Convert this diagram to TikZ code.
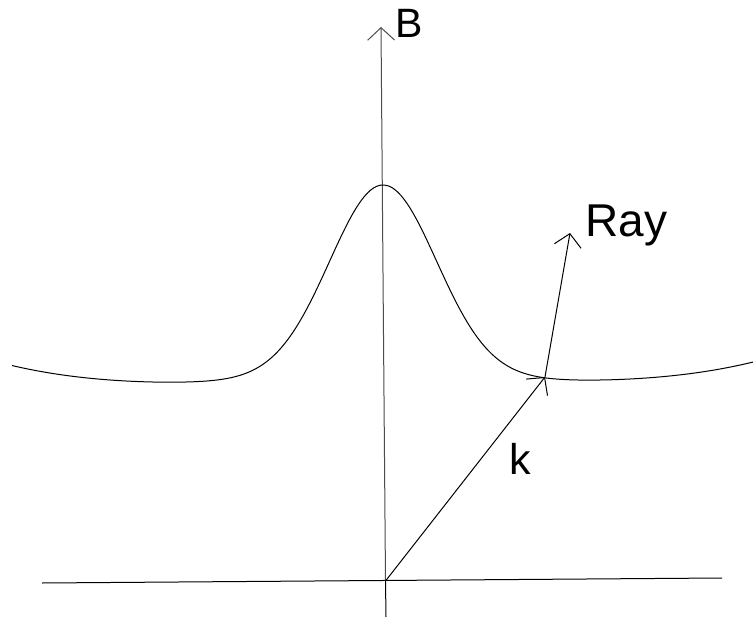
\documentclass[tikz,border=0pt]{standalone}
\usepackage{fontspec}
\setmainfont{Liberation Sans}
\usetikzlibrary{arrows.meta}
\begin{document}
\begin{tikzpicture}[x=1pt,y=-1pt,
  line width=1pt,
  barb/.style={-{Straight Barb[length=12.5pt,width=27pt]}},
  lbl/.style={inner sep=0pt,anchor=base west,font=\fontsize{41}{41}\selectfont}]
\useasboundingbox (0,0) rectangle (753,618);
% named points
\coordinate (Xl) at (42,583);
\coordinate (Xr) at (722,578);
\coordinate (Ybot) at (386,617);
\coordinate (O) at (385.5,581);
\coordinate (Ytop) at (381,27);
\coordinate (P) at (545,377);
\coordinate (R) at (570,233);
% axes
\draw (Xl) -- (Xr);
\draw (Ybot) -- (O);
\draw[black!70,barb] (O) -- (Ytop);
% dispersion curve
\draw plot[smooth,samples=180,domain=12:753]
  (\x,{389 - 182*exp(-((\x-383)/75)^2) - 22/(1+((\x-383)/120)^2)
        - 23*((\x-383)/370)^4 - 0.005*(\x-383)});
% vectors
\draw[barb] (O) -- (P);
\draw[barb] (P) -- (R);
% labels
\node[lbl] (lB) at (395,38) {B};
\node[lbl,font=\fontsize{46}{46}\selectfont] (lRay) at (585,236) {Ray};
\node[lbl,font=\fontsize{43}{43}\selectfont] (lk) at (509,474) {k};
\end{tikzpicture}
\end{document}
